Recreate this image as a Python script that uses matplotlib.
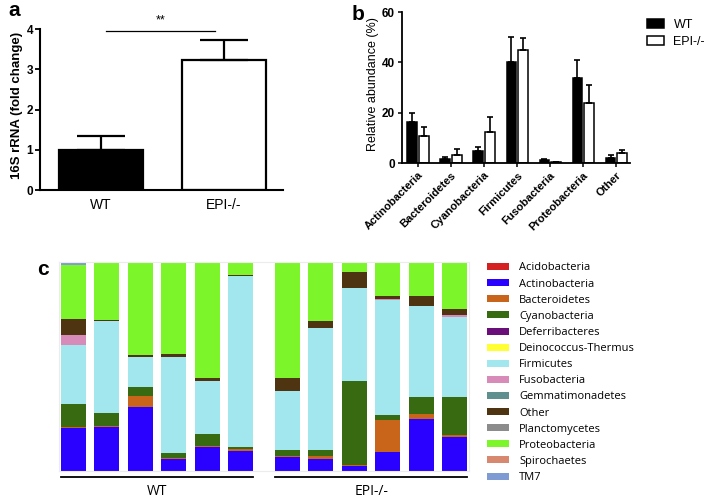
import matplotlib
matplotlib.use("Agg")
from matplotlib import pyplot as plt
from matplotlib.patches import Patch
import numpy as np

plt.rcParams['font.family'] = ['Liberation Sans', 'DejaVu Sans']

# ---- panel a data
groups_a = ["WT", "EPI-/-"]
fold_change = [1.0, 3.23]
fold_err = [0.34, 0.50]

# ---- panel b data
phyla_b = ["Actinobacteria", "Bacteroidetes", "Cyanobacteria", "Firmicutes",
           "Fusobacteria", "Proteobacteria", "Other"]
wt_mean = [16.4, 1.7, 4.9, 40.2, 1.0, 33.8, 2.0]
wt_err = [3.6, 0.8, 1.6, 9.7, 0.7, 7.3, 1.3]
epi_mean = [10.7, 3.3, 12.3, 44.8, 0.3, 24.0, 4.0]
epi_err = [3.5, 2.4, 6.1, 4.7, 0.1, 7.0, 1.0]

# ---- panel c data (percent per sample, bottom to top)
phyla_c = ["Acidobacteria", "Actinobacteria", "Bacteroidetes", "Cyanobacteria",
           "Deferribacteres", "Deinococcus-Thermus", "Firmicutes", "Fusobacteria",
           "Gemmatimonadetes", "Other", "Planctomycetes", "Proteobacteria",
           "Spirochaetes", "TM7"]
colors_c = ["#d42020", "#2a00ff", "#c8651b", "#386b11", "#6a0f7a", "#ffff33",
            "#a2e6ee", "#d88bb8", "#5f8f8f", "#4e3410", "#8c8c8c", "#7cf52a",
            "#d98870", "#7f9bd3"]
samples = ["WT1", "WT2", "WT3", "WT4", "WT5", "WT6",
           "EPI1", "EPI2", "EPI3", "EPI4", "EPI5", "EPI6"]
abund = {
    "Acidobacteria":       [0, 0, 0, 0, 0, 0, 0, 0, 0, 0, 0, 0],
    "Actinobacteria":      [20.3, 20.7, 30.3, 5.7, 11.2, 9.6, 6.5, 5.7, 2.1, 8.9, 24.9, 16.3],
    "Bacteroidetes":       [0.5, 0.6, 5.6, 0.6, 0.8, 0.6, 0.6, 1.1, 0.6, 15.5, 2.2, 0.6],
    "Cyanobacteria":       [11.0, 6.4, 4.0, 2.2, 5.4, 1.1, 2.7, 3.0, 40.2, 2.1, 8.0, 18.5],
    "Deferribacteres":     [0, 0, 0, 0, 0, 0, 0, 0, 0, 0, 0, 0],
    "Deinococcus-Thermus": [0, 0, 0, 0, 0, 0, 0, 0, 0, 0, 0, 0],
    "Firmicutes":          [28.2, 44.0, 14.4, 45.9, 25.5, 82.0, 28.2, 58.7, 44.5, 55.2, 43.7, 38.3],
    "Fusobacteria":        [4.8, 0, 0, 0, 0, 0, 0, 0, 0, 0.6, 0, 1.0],
    "Gemmatimonadetes":    [0, 0, 0, 0, 0, 0, 0, 0, 0, 0, 0, 0],
    "Other":               [7.8, 0.6, 1.1, 1.3, 1.4, 0.5, 6.5, 3.2, 7.5, 1.1, 4.8, 2.6],
    "Planctomycetes":      [0, 0, 0, 0, 0, 0, 0, 0, 0, 0, 0, 0],
    "Proteobacteria":      [25.7, 27.6, 44.7, 44.2, 55.7, 6.2, 55.3, 28.2, 5.1, 16.1, 16.4, 22.0],
    "Spirochaetes":        [0, 0, 0, 0, 0, 0, 0, 0, 0, 0, 0, 0.8],
    "TM7":                 [1.6, 0, 0, 0, 0, 0, 0, 0, 0, 0.5, 0, 0],
}

fig = plt.figure(figsize=(7.08, 4.98), dpi=100)

# ================= panel a
axa = fig.add_axes([40/708, 1-190/498, 243/708, 160.7/498])
xa = np.arange(len(groups_a))
axa.bar(xa, fold_change, width=0.686, color=["black", "white"],
        edgecolor="black", linewidth=1.6, zorder=2)
axa.errorbar(xa, fold_change, yerr=[[0, 0], fold_err], fmt="none",
             ecolor="black", elinewidth=1.6, capsize=17, capthick=1.6, zorder=3)
axa.set_ylim(0, 4)
axa.set_xlim(-0.5, 1.486)
axa.set_yticks([0, 1, 2, 3, 4])
axa.set_yticklabels(["0", "1", "2", "3", "4"], fontweight="bold", fontsize=8.5)
axa.set_xticks(xa)
axa.set_xticklabels(groups_a, fontsize=10)
axa.tick_params(axis="x", length=0, pad=6)
axa.tick_params(axis="y", width=1.3, length=3.5, pad=1.5)
axa.set_ylabel("16S rRNA (fold change)", fontweight="bold", fontsize=9.5)
axa.yaxis.set_label_coords(-0.072, 0.525)
for s in ["top", "right"]:
    axa.spines[s].set_visible(False)
for s in ["left", "bottom"]:
    axa.spines[s].set_linewidth(1.5)
axa.plot([0.04, 0.93], [3.97, 3.97], color="black", lw=0.9, clip_on=False)
axa.text(0.485, 4.06, "**", ha="center", va="bottom", fontsize=9, clip_on=False)
fig.text(8/708, 1-10/498, "a", fontsize=15, fontweight="bold", va="center", ha="left")

# ================= panel b
axb = fig.add_axes([402/708, 1-163/498, 228/708, 151/498])
xb = np.arange(len(phyla_b))
bw = 0.3
axb.bar(xb - bw/2 - 0.02, wt_mean, width=bw, color="black", edgecolor="black",
        linewidth=1.1, zorder=2, label="WT")
axb.bar(xb + bw/2 + 0.02, epi_mean, width=bw, color="white", edgecolor="black",
        linewidth=1.1, zorder=2, label="EPI-/-")
axb.errorbar(xb - bw/2 - 0.02, wt_mean, yerr=[np.zeros(len(xb)), wt_err], fmt="none",
             ecolor="black", elinewidth=1.2, capsize=2, capthick=1.2, zorder=3)
axb.errorbar(xb + bw/2 + 0.02, epi_mean, yerr=[np.zeros(len(xb)), epi_err], fmt="none",
             ecolor="black", elinewidth=1.2, capsize=2, capthick=1.2, zorder=3)
axb.set_ylim(0, 60)
axb.set_xlim(-0.485, 6.42)
axb.set_yticks([0, 20, 40, 60])
axb.set_yticklabels(["0", "20", "40", "60"], fontweight="bold", fontsize=8.5)
axb.set_xticks(xb)
axb.set_xticklabels(phyla_b, rotation=45, ha="right", rotation_mode="anchor",
                    fontsize=8, fontweight="bold")
axb.tick_params(axis="x", width=1.1, length=3, pad=2)
axb.tick_params(axis="y", width=1.1, length=3, pad=2)
axb.set_ylabel("Relative abundance (%)", fontsize=9)
axb.yaxis.set_label_coords(-0.1, 0.525)
for s in ["top", "right"]:
    axb.spines[s].set_visible(False)
for s in ["left", "bottom"]:
    axb.spines[s].set_linewidth(1.3)
axb.legend(loc="upper left", bbox_to_anchor=(636/708, 1-8/498),
           bbox_transform=fig.transFigure, frameon=False, fontsize=9,
           handlelength=1.3, handleheight=0.7, handletextpad=0.8, labelspacing=0.35)
fig.text(352/708, 1-15/498, "b", fontsize=15, fontweight="bold", va="center", ha="left")

# ================= panel c
axc = fig.add_axes([59/708, 1-470.7/498, 410/708, 209/498])
xc = np.array([0, 1, 2, 3, 4, 5, 6.4, 7.4, 8.4, 9.4, 10.4, 11.4])
bottom = np.zeros(len(samples))
for name, col in zip(phyla_c, colors_c):
    vals = np.array(abund[name])
    axc.bar(xc, vals, bottom=bottom, width=0.746, color=col, edgecolor="none",
            label=name)
    bottom += vals
axc.set_xlim(-0.42, 11.82)
axc.set_ylim(0, 100)
axc.set_xticks([])
axc.set_yticks([])
for s in axc.spines.values():
    s.set_color("#ececec")
    s.set_linewidth(0.8)

trans = axc.get_xaxis_transform()
axc.plot([xc[0]-0.37, xc[5]+0.37], [-0.029, -0.029], color="black", lw=1.3,
         transform=trans, clip_on=False)
axc.plot([xc[6]-0.37, xc[11]+0.37], [-0.029, -0.029], color="black", lw=1.3,
         transform=trans, clip_on=False)
axc.text(np.mean(xc[:6]), -0.10, "WT", transform=trans, ha="center", va="center",
         fontsize=10, family="Open Sans")
axc.text(np.mean(xc[6:]), -0.10, "EPI-/-", transform=trans, ha="center", va="center",
         fontsize=10, family="Open Sans")
fig.text(43/708, 1-269/498, "c", fontsize=15, fontweight="bold", va="center", ha="center")

handles = [Patch(facecolor=c, edgecolor="none") for c in colors_c]
fig.legend(handles, phyla_c, loc="upper left", bbox_to_anchor=(477/708, 1-252.5/498),
           frameon=False, prop={"family": "Open Sans", "size": 8},
           handlelength=2.0, handleheight=0.6, handletextpad=0.9, labelspacing=0.46)

fig.savefig("out.png", dpi=100)
